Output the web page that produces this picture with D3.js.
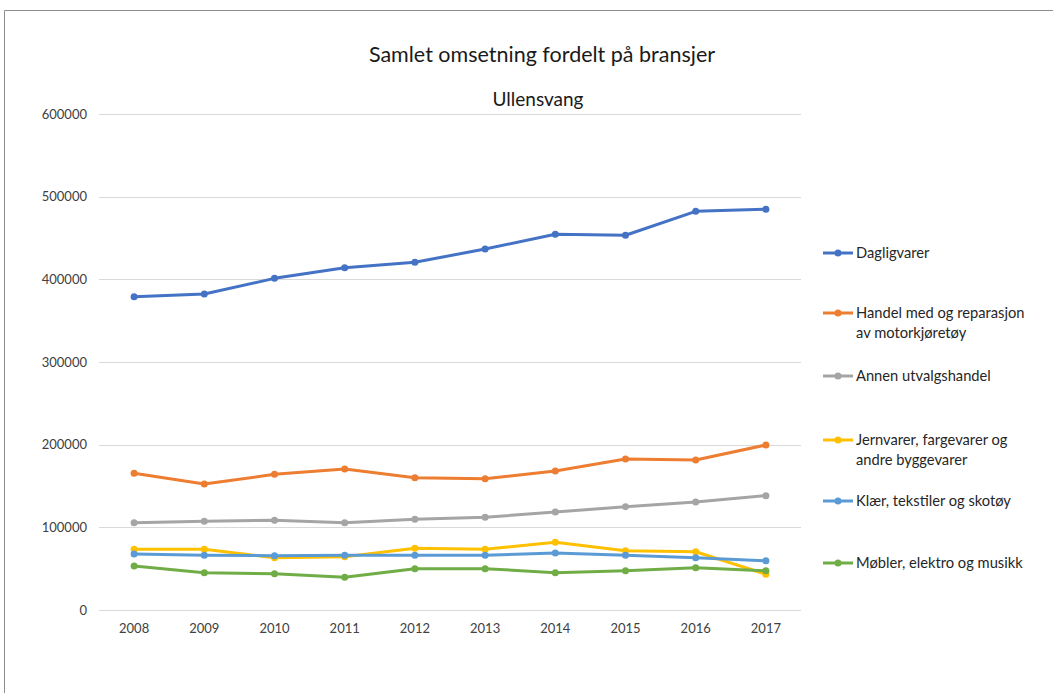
<!DOCTYPE html>
<html>
<head>
<meta charset="utf-8">
<script src="https://cdn.jsdelivr.net/npm/d3@7"></script>
<style>
  html, body { margin: 0; padding: 0; background: #fff; }
  svg { display: block; }
  text { font-family: "Lato", "Open Sans", sans-serif; }
</style>
</head>
<body>
<svg id="chart" width="1053" height="693"></svg>
<script>
// Årlig omsetning per bransje, Ullensvang 2008–2017
const years = ["2008", "2009", "2010", "2011", "2012", "2013", "2014", "2015", "2016", "2017"];
const yTicks = [0, 100000, 200000, 300000, 400000, 500000, 600000];

const dagligvarer = [379000, 382200, 401200, 414100, 420600, 436700, 454500, 453300, 482300, 484700];
const handelMotor = [165300, 152400, 164100, 170600, 160000, 158800, 168100, 182700, 181400, 199600];
const annenUtvalg = [105600, 107300, 108500, 105600, 109700, 112100, 118500, 125000, 130600, 138300];
const jernvarer   = [73400, 73400, 63300, 64500, 74600, 73400, 81900, 71700, 70500, 43200];
const klaer       = [67700, 66200, 65700, 66200, 66200, 66200, 68900, 66200, 63300, 59600];
const mobler      = [53200, 45100, 43900, 39500, 50000, 50000, 45100, 47500, 51200, 47500];

const seriesNames = [
  ["Dagligvarer"],
  ["Handel med og reparasjon", "av motorkjøretøy"],
  ["Annen utvalgshandel"],
  ["Jernvarer, fargevarer og", "andre byggevarer"],
  ["Klær, tekstiler og skotøy"],
  ["Møbler, elektro og musikk"]
];
const seriesValues = [dagligvarer, handelMotor, annenUtvalg, jernvarer, klaer, mobler];
const seriesColors = ["#4472C4", "#ED7D31", "#A5A5A5", "#FFC000", "#5B9BD5", "#70AD47"];

const svg = d3.select("#chart");

// ramme rundt diagramområdet
svg.append("path")
  .attr("d", "M4.5,693 L4.5,10.5 L1053,10.5")
  .attr("fill", "none")
  .attr("stroke", "#8c8c8c")
  .attr("stroke-width", 1);

const x = d3.scaleBand().domain(years).range([99, 801]);
const y = d3.scaleLinear().domain([0, 600000]).range([610, 114]);
const cx = d => x(d) + x.bandwidth() / 2;

// titler
svg.append("text")
  .attr("x", 542).attr("y", 62)
  .attr("text-anchor", "middle")
  .attr("font-size", 21.5)
  .attr("fill", "#1a1a1a")
  .text("Samlet omsetning fordelt på bransjer");
svg.append("text")
  .attr("x", 538).attr("y", 106)
  .attr("text-anchor", "middle")
  .attr("font-size", 19)
  .attr("fill", "#1a1a1a")
  .text("Ullensvang");

// rutenett
svg.append("g")
  .selectAll("line")
  .data(yTicks)
  .join("line")
  .attr("x1", 99).attr("x2", 801)
  .attr("y1", d => Math.round(y(d)) + 0.5)
  .attr("y2", d => Math.round(y(d)) + 0.5)
  .attr("stroke", "#d9d9d9")
  .attr("stroke-width", 1);

// y-akse
const yAxis = svg.append("g")
  .attr("transform", "translate(87,0)")
  .call(d3.axisLeft(y).tickValues(yTicks).tickFormat(d3.format("d")).tickSize(0).tickPadding(0));
yAxis.select(".domain").remove();
yAxis.selectAll("text")
  .attr("font-family", "Lato, sans-serif")
  .attr("font-size", 13)
  .attr("fill", "#404040");

// x-akse
const xAxis = svg.append("g")
  .attr("transform", "translate(0,610)")
  .call(d3.axisBottom(x).tickSize(0).tickPadding(14));
xAxis.select(".domain").remove();
xAxis.selectAll("text")
  .attr("font-family", "Lato, sans-serif")
  .attr("font-size", 13)
  .attr("fill", "#404040");

// linjer med markører
const line = d3.line().x((d, i) => cx(years[i])).y(d => y(d));
seriesValues.forEach((vals, s) => {
  const g = svg.append("g");
  g.append("path")
    .datum(vals)
    .attr("d", line)
    .attr("fill", "none")
    .attr("stroke", seriesColors[s])
    .attr("stroke-width", 3)
    .attr("stroke-linejoin", "round")
    .attr("stroke-linecap", "round");
  g.selectAll("circle")
    .data(vals)
    .join("circle")
    .attr("cx", (d, i) => cx(years[i]))
    .attr("cy", d => y(d))
    .attr("r", 3.5)
    .attr("fill", seriesColors[s]);
});

// tegnforklaring
const legendY = [253, 313, 376, 440, 501, 563];
seriesNames.forEach((lines, s) => {
  const g = svg.append("g").attr("transform", `translate(823,${legendY[s]})`);
  g.append("line")
    .attr("x1", 0).attr("x2", 30)
    .attr("y1", 0).attr("y2", 0)
    .attr("stroke", seriesColors[s])
    .attr("stroke-width", 3);
  g.append("circle")
    .attr("cx", 15).attr("cy", 0).attr("r", 3.5)
    .attr("fill", seriesColors[s]);
  lines.forEach((t, j) => {
    g.append("text")
      .attr("x", 33)
      .attr("y", j * 20 + 5)
      .attr("font-size", 14.7)
      .attr("fill", "#262626")
      .text(t);
  });
});
</script>
</body>
</html>
